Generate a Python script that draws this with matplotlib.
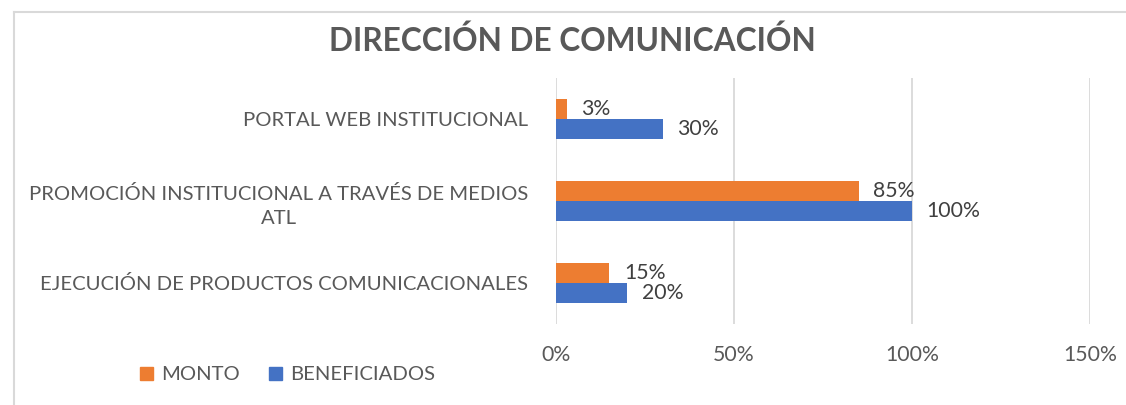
import matplotlib
matplotlib.use("Agg")
import matplotlib.pyplot as plt
from matplotlib.lines import Line2D
from matplotlib.patches import Patch
import numpy as np

title = "DIRECCIÓN DE COMUNICACIÓN"
categories = ["PORTAL WEB INSTITUCIONAL",
              "PROMOCIÓN INSTITUCIONAL A TRAVÉS DE MEDIOS\nATL",
              "EJECUCIÓN DE PRODUCTOS COMUNICACIONALES"]
monto = [3, 85, 15]
beneficiados = [30, 100, 20]
series_names = ["MONTO", "BENEFICIADOS"]
xticks = [0, 50, 100, 150]
xtick_labels = ["0%", "50%", "100%", "150%"]

ORANGE = "#ED7D31"
BLUE = "#4472C4"
TXT = "#595959"
GRID = "#D9D9D9"
FONT = "Lato"

fig = plt.figure(figsize=(11.26, 4.05), dpi=100)
ax = fig.add_axes([556/1126, 81/405, 534/1126, 246/405])

y = np.arange(len(categories))
h = 0.244
ax.barh(y - h/2, monto, height=h, color=ORANGE, label=series_names[0])
ax.barh(y + h/2, beneficiados, height=h, color=BLUE, label=series_names[1])

ax.set_ylim(2.5, -0.5)
ax.set_xlim(0, 150)
ax.set_xticks(xticks)
ax.set_xticklabels(xtick_labels, fontfamily=FONT, fontsize=15.3, color=TXT)
ax.set_yticks(y)
ax.set_yticklabels(categories, fontfamily=FONT, fontsize=14.6, color=TXT,
                   multialignment="center", linespacing=1.5)
ax.tick_params(axis="both", length=0)
ax.tick_params(axis="y", pad=20)
ax.tick_params(axis="x", pad=15)
ax.grid(axis="x", color=GRID, linewidth=1.3)
ax.set_axisbelow(True)
for s in ax.spines.values():
    s.set_visible(False)

for yi, v in zip(y, monto):
    ax.annotate(f"{v}%", (v, yi - h/2), xytext=(10.5, 0), textcoords="offset points",
                va="center", ha="left", fontfamily=FONT, fontsize=15.3, color="#404040")
for yi, v in zip(y, beneficiados):
    ax.annotate(f"{v}%", (v, yi + h/2), xytext=(10.5, 0), textcoords="offset points",
                va="center", ha="left", fontfamily=FONT, fontsize=15.3, color="#404040")

fig.text(572/1126, 1 - 41/405, title, ha="center", va="center", fontfamily=FONT,
         fontweight="bold", fontsize=22.8, color=TXT)

handles = [Patch(color=ORANGE), Patch(color=BLUE)]
fig.legend(handles, series_names, loc="center left", bbox_to_anchor=(122/1126, 1 - 375/405),
           ncol=2, frameon=False, prop={"family": FONT, "size": 14.6},
           labelcolor=TXT, handlelength=0.65, handleheight=0.65, handletextpad=0.4,
           columnspacing=1.4)

# chart border (left and top)
fig.add_artist(Line2D([13.5/1126, 13.5/1126], [0, 1 - 11.5/405], color=GRID, lw=1.5,
                      transform=fig.transFigure))
fig.add_artist(Line2D([13.5/1126, 1], [1 - 11.5/405, 1 - 11.5/405], color=GRID, lw=1.5,
                      transform=fig.transFigure))

fig.savefig("out.png", dpi=100)
